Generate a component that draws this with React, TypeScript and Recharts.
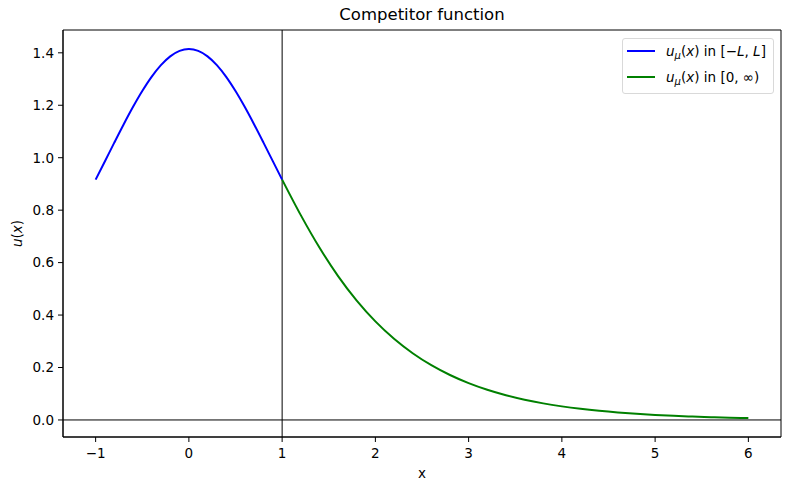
import React from 'react';
import { LineChart, Line, XAxis, YAxis, ReferenceLine, ReferenceArea, Label } from 'recharts';

const blueX = [-1, -0.9, -0.8, -0.7, -0.6, -0.5, -0.4, -0.3, -0.2, -0.1, 0, 0.1, 0.2, 0.3, 0.4, 0.5, 0.6, 0.7, 0.8, 0.9, 1];
const blueY = [0.9165, 0.9868, 1.0574, 1.1267, 1.193, 1.2541, 1.3082, 1.3529, 1.3864, 1.4072, 1.4142, 1.4072, 1.3864, 1.3529, 1.3082, 1.2541, 1.193, 1.1267, 1.0574, 0.9868, 0.9165];
const greenX = [1, 1.2, 1.4, 1.6, 1.8, 2, 2.2, 2.4, 2.6, 2.8, 3, 3.2, 3.4, 3.6, 3.8, 4, 4.2, 4.4, 4.6, 4.8, 5, 5.2, 5.4, 5.6, 5.8, 6];
const greenY = [0.9165, 0.781, 0.6575, 0.5487, 0.4551, 0.3759, 0.3096, 0.2545, 0.2089, 0.1714, 0.1405, 0.1151, 0.0943, 0.0772, 0.0632, 0.0518, 0.0424, 0.0347, 0.0284, 0.0233, 0.0191, 0.0156, 0.0128, 0.01046, 0.00856, 0.00701];
const xTicks = [-1, 0, 1, 2, 3, 4, 5, 6];
const yTicks = [0, 0.2, 0.4, 0.6, 0.8, 1.0, 1.2, 1.4];

const xDomain: [number, number] = [-1.35, 6.35];
const yDomain: [number, number] = [-0.065, 1.487];

type Row = { x: number; blue?: number; green?: number };
const rowMap = new Map<number, Row>();
blueX.forEach((x, i) => {
  const r = rowMap.get(x) || { x };
  r.blue = blueY[i];
  rowMap.set(x, r);
});
greenX.forEach((x, i) => {
  const r = rowMap.get(x) || { x };
  r.green = greenY[i];
  rowMap.set(x, r);
});
const data: Row[] = Array.from(rowMap.values()).sort((a, b) => a.x - b.x);

const FONT = '"DejaVu Sans", sans-serif';
const FS = 13.5;

const fmtX = (v: number) => (v < 0 ? '\u2212' + Math.abs(v) : String(v));
const fmtY = (v: number) => v.toFixed(1);

const Sub = ({ children }: { children: React.ReactNode }) => (
  <span style={{ fontSize: 10, fontStyle: 'italic', position: 'relative', top: 3, lineHeight: 0 }}>{children}</span>
);

const LegendBox = () => (
  <div
    style={{
      position: 'absolute',
      left: 622,
      top: 38,
      width: 152,
      height: 56,
      border: '1px solid #d9d9d9',
      borderRadius: 3,
      background: 'rgba(255,255,255,0.8)',
      fontFamily: FONT,
      fontSize: FS,
      color: '#000',
      boxSizing: 'border-box',
    }}
  >
    {[
      { color: '#0000ff', label: (<><i>u</i><Sub>μ</Sub>(<i>x</i>) in [−<i>L</i>, <i>L</i>]</>) },
      { color: '#008000', label: (<><i>u</i><Sub>μ</Sub>(<i>x</i>) in [0, ∞)</>) },
    ].map((it, i) => (
      <div key={i} style={{ position: 'absolute', left: 4, top: 3 + i * 26, height: 18, display: 'flex', alignItems: 'center', whiteSpace: 'nowrap' }}>
        <div style={{ width: 28, height: 2, background: it.color, marginRight: 11 }} />
        <span>{it.label}</span>
      </div>
    ))}
  </div>
);

export default function App() {
  return (
    <div style={{ position: 'absolute', left: 0, top: 0, width: 790, height: 490, background: '#fff' }}>
      <div
        style={{
          position: 'absolute',
          left: 63,
          width: 718,
          top: 5,
          textAlign: 'center',
          fontFamily: FONT,
          fontSize: 16.5,
          color: '#000',
        }}
      >
        Competitor function
      </div>
      <LineChart width={790} height={490} data={data} margin={{ top: 30, right: 9, bottom: 0, left: 0 }}>
        <XAxis
          dataKey="x"
          type="number"
          domain={xDomain}
          ticks={xTicks}
          tickFormatter={fmtX}
          allowDataOverflow
          height={53}
          tickSize={5}
          tickMargin={6}
          stroke="#000"
          tick={{ fill: '#000', fontFamily: FONT, fontSize: FS }}
          tickLine={{ stroke: '#000' }}
          axisLine={{ stroke: '#000' }}
        >
          <Label value="x" position="insideBottom" offset={12} style={{ fill: '#000', fontFamily: FONT, fontSize: FS }} />
        </XAxis>
        <YAxis
          type="number"
          domain={yDomain}
          ticks={yTicks}
          tickFormatter={fmtY}
          allowDataOverflow
          width={63}
          tickSize={5}
          tickMargin={4}
          stroke="#000"
          tick={{ fill: '#000', fontFamily: FONT, fontSize: FS }}
          tickLine={{ stroke: '#000' }}
          axisLine={{ stroke: '#000' }}
        >
          <Label
            content={() => (
              <text
                x={22}
                y={233.5}
                transform="rotate(-90 22 233.5)"
                textAnchor="middle"
                fontFamily={FONT}
                fontSize={FS}
                fill="#000"
              >
                <tspan fontStyle="italic">u</tspan>
                <tspan>(</tspan>
                <tspan fontStyle="italic">x</tspan>
                <tspan>)</tspan>
              </text>
            )}
          />
        </YAxis>
        <ReferenceArea
          x1={xDomain[0]}
          x2={xDomain[1]}
          y1={yDomain[0]}
          y2={yDomain[1]}
          fill="none"
          stroke="#000"
          strokeWidth={1}
          ifOverflow="visible"
        />
        <ReferenceLine y={0} stroke="#000" strokeWidth={1} />
        <ReferenceLine x={1} stroke="#000" strokeWidth={1} />
        <Line dataKey="blue" stroke="#0000ff" strokeWidth={2} dot={false} type="monotone" isAnimationActive={false} connectNulls />
        <Line dataKey="green" stroke="#008000" strokeWidth={2} dot={false} type="monotone" isAnimationActive={false} connectNulls />
      </LineChart>
      <LegendBox />
    </div>
  );
}
